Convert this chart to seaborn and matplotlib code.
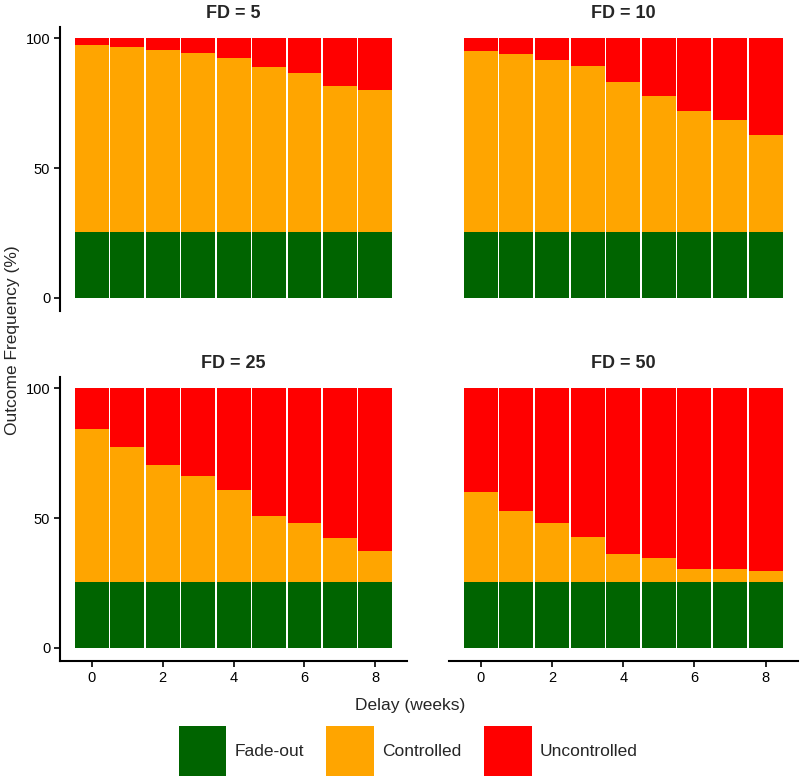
import matplotlib.pyplot as plt
import pandas as pd
import seaborn as sns
from matplotlib.patches import Patch

delays = [0, 1, 2, 3, 4, 5, 6, 7, 8]
fd_levels = [5, 10, 25, 50]

# outcome shares (%) per delay
fade_out = {
    5: [25.4] * 9,
    10: [25.4] * 9,
    25: [25.4] * 9,
    50: [25.4] * 9,
}
controlled = {
    5: [72.0, 71.2, 70.1, 68.9, 67.1, 63.5, 61.2, 56.3, 54.6],
    10: [69.7, 68.5, 66.2, 63.9, 57.9, 52.4, 46.7, 43.2, 37.4],
    25: [58.9, 52.2, 45.0, 40.8, 35.5, 25.5, 22.7, 16.9, 11.9],
    50: [34.5, 27.4, 22.8, 17.2, 10.7, 9.4, 4.9, 5.2, 4.3],
}

outcomes = ["Fade-out", "Controlled", "Uncontrolled"]
colors = {"Fade-out": "#006400", "Controlled": "#FFA500", "Uncontrolled": "#FF0000"}

rows = []
for fd in fd_levels:
    for i, d in enumerate(delays):
        f = fade_out[fd][i]
        c = controlled[fd][i]
        u = 100 - f - c
        rows.append({"FD": fd, "delay": d, "Fade-out": f, "Controlled": c,
                     "Uncontrolled": u})
df = pd.DataFrame(rows)
# cumulative tops for stacking
df["top_fade"] = df["Fade-out"]
df["top_ctrl"] = df["Fade-out"] + df["Controlled"]
df["top_unc"] = df["top_ctrl"] + df["Uncontrolled"]

sns.set_theme(style="white")
plt.rcParams["font.family"] = ["Liberation Sans", "DejaVu Sans"]

fig, axes = plt.subplots(2, 2, figsize=(8, 7.8), dpi=100)
positions = {
    0: [0.075, 0.6017, 0.434, 0.364],
    1: [0.561, 0.6017, 0.436, 0.364],
    2: [0.075, 0.1526, 0.434, 0.3645],
    3: [0.561, 0.1526, 0.436, 0.3645],
}

for k, (ax, fd) in enumerate(zip(axes.flat, fd_levels)):
    ax.set_position(positions[k])
    sub = df[df["FD"] == fd]
    for col, name in [("top_unc", "Uncontrolled"), ("top_ctrl", "Controlled"),
                      ("top_fade", "Fade-out")]:
        sns.barplot(data=sub, x="delay", y=col, order=delays, color=colors[name],
                    saturation=1, width=0.955, linewidth=0, errorbar=None, ax=ax)
    ax.set_xlim(-0.9, 8.9)
    ax.set_ylim(-5, 104.5)
    ax.set_title(f"FD = {fd}", fontsize=13, fontweight="bold", pad=6)
    ax.set_xlabel("")
    ax.set_ylabel("")
    ax.set_yticks([0, 50, 100])
    ax.set_xticks([0, 2, 4, 6, 8])
    ax.set_xticklabels(["0", "2", "4", "6", "8"])
    for s in ax.spines.values():
        s.set_visible(False)
        s.set_color("black")
        s.set_linewidth(1.5)
    left = k % 2 == 0
    bottom = k >= 2
    ax.spines["left"].set_visible(left)
    ax.spines["bottom"].set_visible(bottom)
    ax.tick_params(axis="y", left=left, labelleft=left, length=4, width=1.2,
                   colors="black", labelsize=10.5, pad=3)
    ax.tick_params(axis="x", bottom=bottom, labelbottom=bottom, length=4,
                   width=1.2, colors="black", labelsize=10.5, pad=3)
    ax.grid(False)

fig.text(0.016, 0.564, "Outcome Frequency (%)", rotation=90, ha="center",
         va="center", fontsize=12.5)
fig.text(0.513, 0.096, "Delay (weeks)", ha="center", va="center", fontsize=12.5)

handles = [Patch(facecolor=colors[o], edgecolor="none", label=o) for o in outcomes]
fig.legend(handles=handles, loc="center", bbox_to_anchor=(0.51, 0.037), ncol=3,
           frameon=False, fontsize=12.5, handlelength=2.76, handleheight=4.1,
           handletextpad=0.45, columnspacing=1.3, borderpad=0.1)

fig.savefig("out.png", dpi=100)
